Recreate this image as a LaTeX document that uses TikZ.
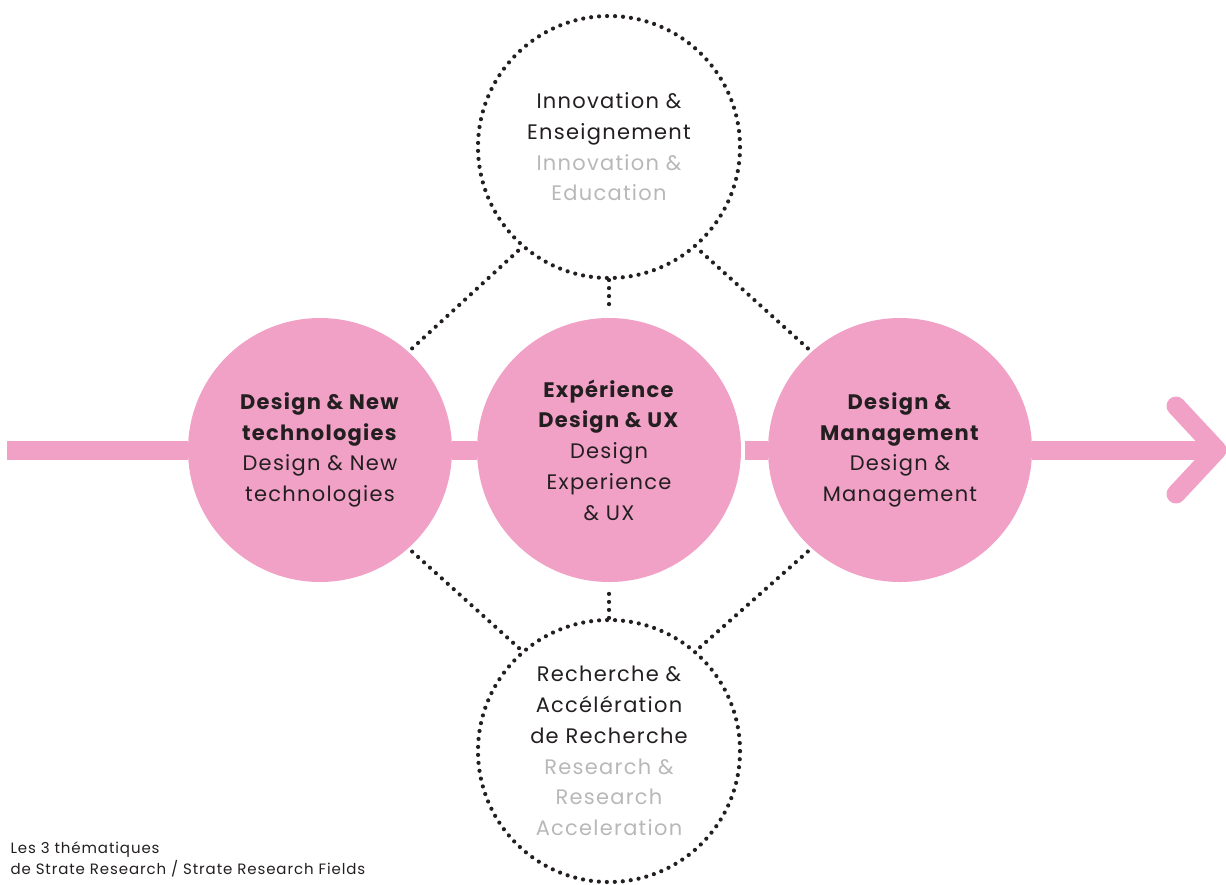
\documentclass[tikz,border=0pt]{standalone}
\usepackage{fontspec}
\setmainfont{Poppins}[LetterSpace=6]
\definecolor{fieldpink}{HTML}{F1A1C6}
\definecolor{inkdark}{HTML}{231F20}
\definecolor{inkgrey}{HTML}{B8B8B8}

% english translation under the french title
\newcommand{\english}[1]{\textcolor{inkgrey}{#1}}

\tikzset{
  label font/.style={font=\fontsize{21}{30.7}\selectfont},
  field/.style={circle, fill=fieldpink, minimum size=264pt, inner sep=0pt,
    align=center, text=inkdark, label font},
  ring/.style={circle, draw=inkdark, line width=4.2pt, line cap=round,
    dash pattern=on 0pt off 7.99pt, minimum size=262pt, inner sep=0pt,
    align=center, text=inkdark, label font},
  dots/.style={draw=inkdark, line width=4.2pt, line cap=round,
    dash pattern=on 0pt off 8pt},
  band/.style={draw=fieldpink, line width=19pt}
}

\begin{document}
\begin{tikzpicture}[x=1pt, y=-1pt]
  \useasboundingbox (0,0) rectangle (1226,884);

  % the three research fields along the arrow
  \node[field] (newtech) at (320,450)
    {\textbf{Design \& New}\\ \textbf{technologies}\\ Design \& New\\ technologies};
  \node[field] (expux) at (609,450)
    {\textbf{Expérience}\\ \textbf{Design \& UX}\\ Design\\ Experience\\ \& UX};
  \node[field] (mgmt) at (900,450)
    {\textbf{Design \&}\\ \textbf{Management}\\ Design \&\\ Management};

  % dotted rings above and below
  \node[ring] (innov) at (609,147)
    {Innovation \&\\ Enseignement\\ \english{Innovation \&}\\ \english{Education}};
  \node[ring] (research) at (609,751)
    {Recherche \&\\ Accélération\\ de Recherche\\ \english{Research \&}\\
     \english{Research}\\ \english{Acceleration}};

  % arrow band
  \coordinate (start) at (7,450);
  \coordinate (tip) at (1217,450);
  \draw[band] (start) -- (newtech.west);
  \draw[band] (newtech.east) -- (expux.west);
  \draw[band] ([xshift=4pt]expux.east) -- (mgmt.west);
  \draw[band] (mgmt.east) -- (tip);
  \draw[band, line cap=round, line join=round]
    ([shift={(-41,-44)}]tip) -- (tip) -- ([shift={(-41,44)}]tip);

  % dotted links
  \draw[dots, shorten <=5pt] (newtech.48) -- (innov.229);
  \draw[dots, shorten <=5pt] (mgmt.132) -- (innov.311);
  \draw[dots, shorten >=8pt] (innov.south) -- (expux.north);
  \draw[dots, shorten <=5pt] (newtech.-48) -- (research.131);
  \draw[dots, shorten <=5pt] (mgmt.-132) -- (research.49);
  \draw[dots, shorten >=8pt] (research.north) -- (expux.south);

  \node[anchor=base west, align=left, text=inkdark,
    font=\fontsize{15}{21}\selectfont] (caption) at (7,874)
    {Les 3 thématiques\\ de Strate Research / Strate Research Fields};
\end{tikzpicture}
\end{document}
